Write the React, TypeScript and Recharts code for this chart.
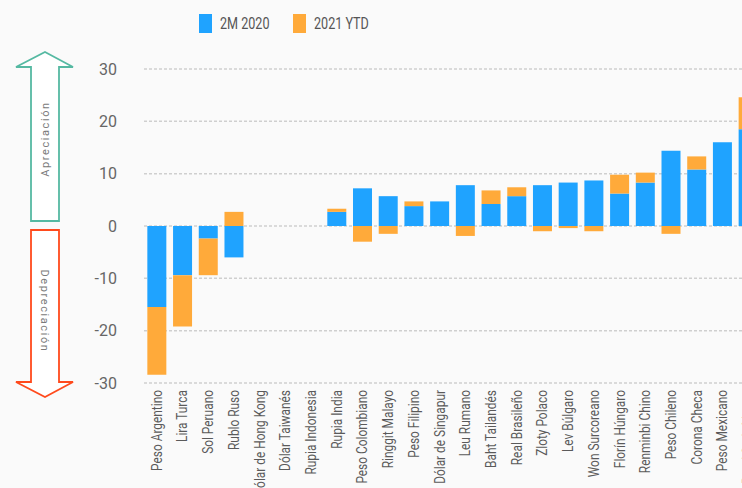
import React from 'react';
import { BarChart, Bar, XAxis, YAxis, CartesianGrid } from 'recharts';

const currencies = [
  'Peso Argentino', 'Lira Turca', 'Sol Peruano', 'Rublo Ruso', 'Dólar de Hong Kong',
  'Dólar Taiwanés', 'Rupia Indonesia', 'Rupia India', 'Peso Colombiano', 'Ringgit Malayo',
  'Peso Filipino', 'Dólar de Singapur', 'Leu Rumano', 'Baht Tailandés', 'Real Brasileño',
  'Zloty Polaco', 'Lev Búlgaro', 'Won Surcoreano', 'Florín Húngaro', 'Renminbi Chino',
  'Peso Chileno', 'Corona Checa', 'Peso Mexicano', 'Rand Sudafricano',
];
const change2020 = [
  -15.5, -9.4, -2.4, -6.0, 0, 0, 0, 2.7, 7.2, 5.7, 3.8, 4.7, 7.8, 4.2, 5.7,
  7.8, 8.3, 8.7, 6.2, 8.3, 14.4, 10.8, 16.0, 18.5,
];
const change2021 = [
  -12.9, -9.8, -7.0, 2.7, 0, 0, 0, 0.6, -3.0, -1.5, 0.9, 0, -1.9, 2.6, 1.7,
  -1.0, -0.4, -1.0, 3.6, 1.9, -1.5, 2.5, 0, 6.1,
];
const yTicks = [-30, -20, -10, 0, 10, 20, 30];
const legendItems = [
  { label: '2M 2020', color: '#1fa3ff' },
  { label: '2021 YTD', color: '#ffaa3a' },
];

const BLUE = legendItems[0].color;
const ORANGE = legendItems[1].color;

const data = currencies.map((name, i) => ({
  name,
  y2020: change2020[i],
  y2021: change2021[i],
}));

// rotated label, squeezed along its length to look like the condensed original font
function CurrencyTick({ x, y, payload }: any) {
  return (
    <text
      x={0}
      y={0}
      dy="0.35em"
      textAnchor="end"
      transform={`translate(${x}, ${y}) rotate(-90) scale(0.85, 1)`}
      fill="#5a5a5a"
      fontSize={14}
      fontFamily="Roboto, sans-serif"
    >
      {payload.value}
    </text>
  );
}

function Arrows() {
  const label = { fontSize: 11, fill: '#7a7a7a', letterSpacing: 1.6, fontFamily: 'Roboto, sans-serif' };
  return (
    <svg width={90} height={420} style={{ position: 'absolute', left: 0, top: 0 }}>
      <polygon
        points="45,52 73,67 59,67 59,221 31,221 31,67 16,67"
        fill="#ffffff"
        stroke="#55b9a2"
        strokeWidth={1.8}
      />
      <polygon
        points="31,230 59,230 59,382 73,382 45,397 16,382 31,382"
        fill="#ffffff"
        stroke="#ff4a1c"
        strokeWidth={1.8}
      />
      <text x={45} y={139} dy="0.35em" textAnchor="middle" transform="rotate(-90, 45, 139)" {...label}>
        Apreciación
      </text>
      <text x={45} y={311} dy="0.35em" textAnchor="middle" transform="rotate(90, 45, 311)" {...label}>
        Depreciación
      </text>
    </svg>
  );
}

function LegendRow() {
  return (
    <>
      {legendItems.map((it, i) => {
        const left = 199 + i * 94;
        return (
          <React.Fragment key={it.label}>
            <div
              style={{ position: 'absolute', left, top: 14, width: 13, height: 19, background: it.color }}
            />
            <div
              style={{
                position: 'absolute',
                left: left + 21,
                top: 13,
                fontFamily: 'Roboto, sans-serif',
                fontSize: 17,
                lineHeight: '21px',
                color: '#555',
                whiteSpace: 'nowrap',
                transform: 'scaleX(0.74)',
                transformOrigin: 'left center',
              }}
            >
              {it.label}
            </div>
          </React.Fragment>
        );
      })}
    </>
  );
}

export default function App() {
  return (
    <div
      style={{
        position: 'fixed',
        left: 0,
        top: 0,
        width: 742,
        height: 488,
        overflow: 'hidden',
        background: '#fafafa',
      }}
    >
      <BarChart
        width={780}
        height={488}
        data={data}
        stackOffset="sign"
        barCategoryGap="13%"
        margin={{ top: 69, right: 19, left: 0, bottom: 0 }}
      >
        <CartesianGrid vertical={false} stroke="#cfcfcf" strokeDasharray="3 2" strokeWidth={1.5} />
        <XAxis
          dataKey="name"
          interval={0}
          height={105}
          axisLine={false}
          tickLine={false}
          tickSize={0}
          tickMargin={7}
          tick={<CurrencyTick />}
        />
        <YAxis
          width={144}
          domain={[-30, 30]}
          ticks={yTicks}
          axisLine={false}
          tickLine={false}
          tickSize={0}
          tickMargin={27}
          tick={{ fill: '#666', fontSize: 16, fontFamily: 'Roboto, sans-serif' }}
        />
        <Bar dataKey="y2020" stackId="a" fill={BLUE} isAnimationActive={false} />
        <Bar dataKey="y2021" stackId="a" fill={ORANGE} isAnimationActive={false} />
      </BarChart>
      <Arrows />
      <LegendRow />
    </div>
  );
}
